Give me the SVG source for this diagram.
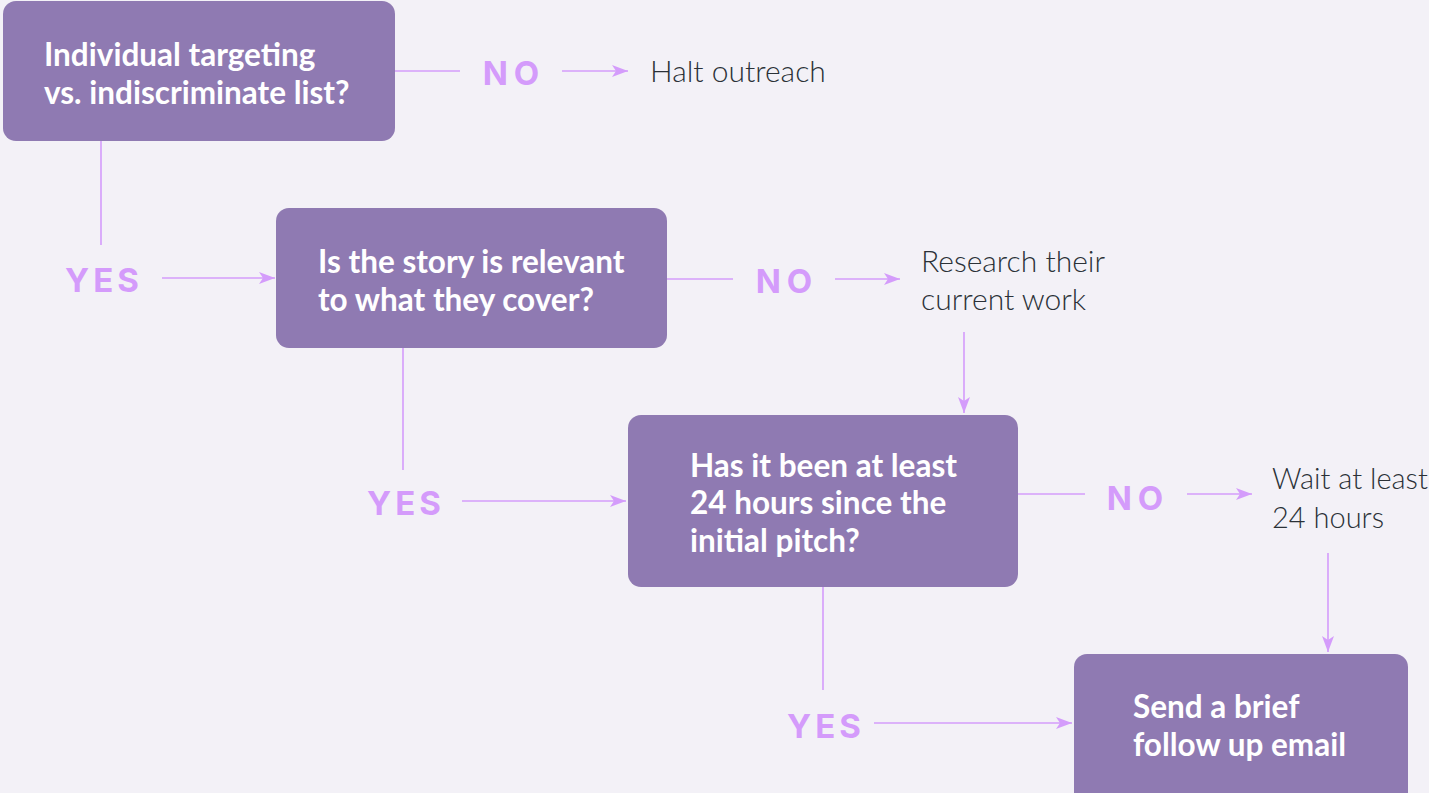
<svg xmlns="http://www.w3.org/2000/svg" width="1429" height="793" viewBox="0 0 1429 793">
  <defs>
    <marker id="arrow" viewBox="0 0 16 12" refX="16" refY="6" markerWidth="16" markerHeight="12" markerUnits="userSpaceOnUse" orient="auto">
      <path d="M0,0 L16,6 L0,12 L4,6 Z" fill="#d49cfb"/>
    </marker>
    <style>
      .box { fill: #8f7ab2; }
      .q { font-family: Lato, "Liberation Sans", sans-serif; font-weight: 700; font-size: 31.5px; fill: #ffffff; }
      .lbl { font-family: Inter, "Liberation Sans", sans-serif; font-weight: 700; font-size: 33px; fill: #d49bfb; letter-spacing: 4px; text-anchor: middle; }
      .no { letter-spacing: 6px; }
      .out { font-family: Lato, "Liberation Sans", sans-serif; font-weight: 300; font-size: 30px; fill: #2b3137; }
      .tight { font-size: 29px; }
      .ln { stroke: #d49cfb; stroke-width: 1.6; fill: none; }
      .arr { stroke: #d49cfb; stroke-width: 1.6; fill: none; marker-end: url(#arrow); }
    </style>
  </defs>
  <rect width="1429" height="793" fill="#f3f1f7"/>

  <g id="connectors">
    <!-- from the targeting question -->
    <line class="ln" x1="395" y1="71" x2="460" y2="71"/>
    <line class="arr" x1="562" y1="71" x2="628" y2="71"/>
    <line class="ln" x1="101" y1="141" x2="101" y2="245"/>
    <line class="arr" x1="162" y1="278" x2="275" y2="278"/>
    <!-- from the relevance question -->
    <line class="ln" x1="667" y1="279" x2="733" y2="279"/>
    <line class="arr" x1="835" y1="279" x2="900" y2="279"/>
    <line class="arr" x1="964" y1="332" x2="964" y2="413"/>
    <line class="ln" x1="403" y1="348" x2="403" y2="470"/>
    <line class="arr" x1="462" y1="501" x2="626" y2="501"/>
    <!-- from the timing question -->
    <line class="ln" x1="1018" y1="494" x2="1085" y2="494"/>
    <line class="arr" x1="1187" y1="494" x2="1252" y2="494"/>
    <line class="arr" x1="1328" y1="553" x2="1328" y2="652"/>
    <line class="ln" x1="823" y1="587" x2="823" y2="690"/>
    <line class="arr" x1="874" y1="723" x2="1072" y2="723"/>
  </g>

  <g id="labels">
    <text class="lbl no" x="514" y="85">NO</text>
    <text class="lbl" x="104" y="292">YES</text>
    <text class="lbl no" x="787" y="293">NO</text>
    <text class="lbl" x="406" y="515">YES</text>
    <text class="lbl no" x="1138" y="510">NO</text>
    <text class="lbl" x="826" y="738">YES</text>
  </g>

  <g id="node-targeting">
    <rect class="box" x="3" y="1" width="392" height="140" rx="13"/>
    <text class="q" x="44" y="66">Individual targeting</text>
    <text class="q" x="44" y="104">vs. indiscriminate list?</text>
  </g>

  <g id="node-halt">
    <text class="out" x="650" y="82">Halt outreach</text>
  </g>

  <g id="node-relevant">
    <rect class="box" x="276" y="208" width="391" height="140" rx="13"/>
    <text class="q" x="318" y="273">Is the story is relevant</text>
    <text class="q" x="318" y="311">to what they cover?</text>
  </g>

  <g id="node-research">
    <text class="out" x="921" y="272">Research their</text>
    <text class="out" x="921" y="310">current work</text>
  </g>

  <g id="node-timing">
    <rect class="box" x="628" y="415" width="390" height="172" rx="13"/>
    <text class="q" x="690" y="477">Has it been at least</text>
    <text class="q" x="690" y="514">24 hours since the</text>
    <text class="q" x="690" y="552">initial pitch?</text>
  </g>

  <g id="node-wait">
    <text class="out tight" x="1272" y="489">Wait at least</text>
    <text class="out tight" x="1272" y="528">24 hours</text>
  </g>

  <g id="node-followup">
    <rect class="box" x="1074" y="654" width="334" height="160" rx="13"/>
    <text class="q" x="1133" y="718">Send a brief</text>
    <text class="q" x="1133" y="756">follow up email</text>
  </g>
</svg>
